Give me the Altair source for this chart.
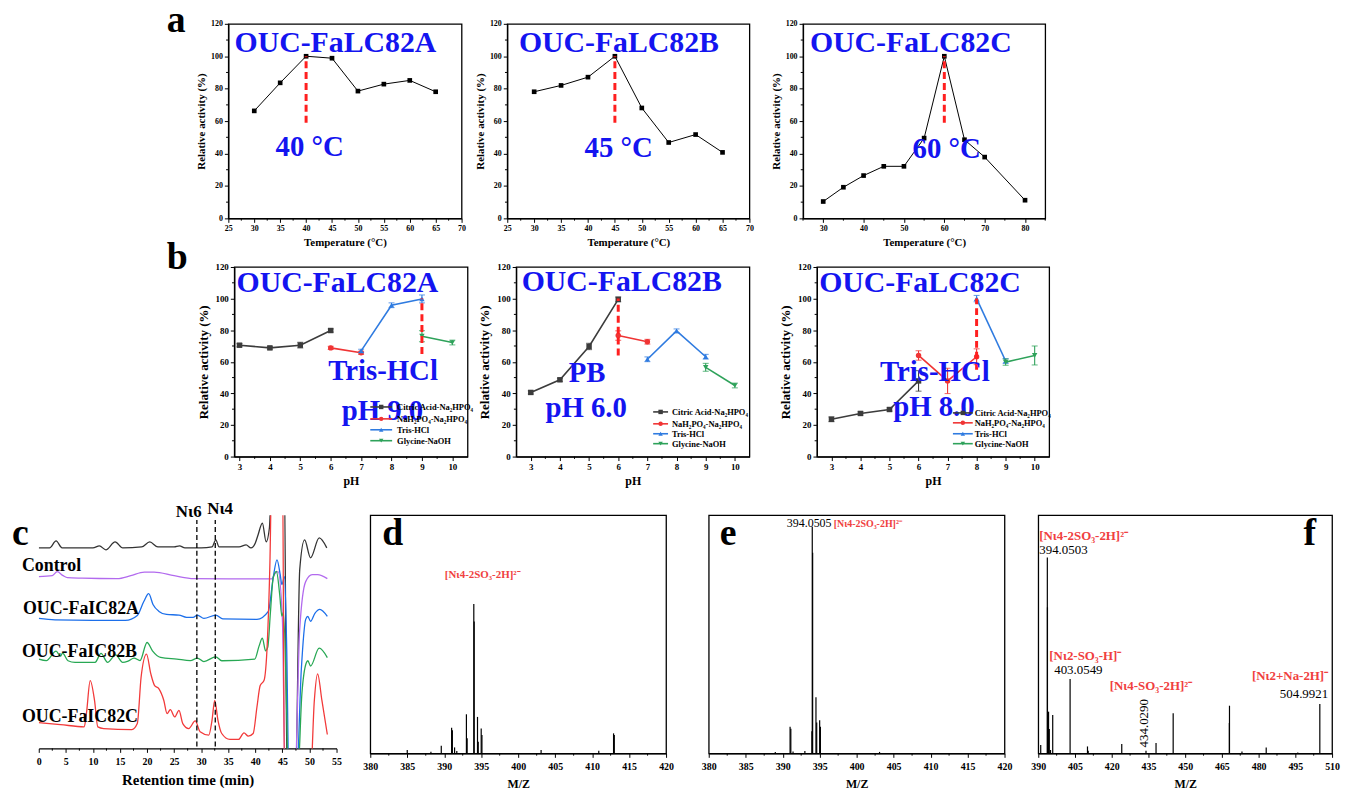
import altair as alt
import pandas as pd

FONT = "Liberation Serif"
BLUE = "#1414F0"
DASH_RED = "#FF1F1F"
LBL_RED = "#F04040"

# ---------------- (a) temperature profiles ----------------
TEMP_A = [30, 35, 40, 45, 50, 55, 60, 65]
ACT_A = [66.3, 83.6, 100.0, 98.8, 78.5, 82.8, 85.1, 78.1]
TEMP_B = [30, 35, 40, 45, 50, 55, 60, 65]
ACT_B = [78.1, 82.0, 87.1, 100.0, 68.1, 46.8, 51.7, 40.7]
TEMP_C = [30, 35, 40, 45, 50, 55, 60, 65, 70, 80]
ACT_C = [10.4, 19.2, 26.4, 32.1, 32.1, 49.5, 100.0, 48.5, 37.8, 11.2]

TEMP_TICKS_AB = [25, 30, 35, 40, 45, 50, 55, 60, 65, 70]
TEMP_MINOR_AB = [27.5, 32.5, 37.5, 42.5, 47.5, 52.5, 57.5, 62.5, 67.5]
TEMP_TICKS_C = [30, 40, 50, 60, 70, 80]
TEMP_MINOR_C = [25, 35, 45, 55, 65, 75, 85]
ACT_TICKS = [0, 20, 40, 60, 80, 100, 120]
ACT_MINOR = [10, 30, 50, 70, 90, 110]

# ---------------- (b) pH profiles ----------------
BUF_KEYS = ["citric", "phos", "tris", "gly"]
BUF_LABELS = ["Citric Acid-Na\u2082HPO\u2084", "NaH\u2082PO\u2084-Na\u2082HPO\u2084", "Tris-HCl", "Glycine-NaOH"]
BUF_COLORS = ["#3C3C3C", "#F03434", "#2F7BE0", "#2EA25A"]
BUF_SHAPES = ["square", "circle", "triangle-up", "triangle-down"]

PH_A = {
    "citric": ([3, 4, 5, 6], [70.5, 68.8, 70.5, 79.8], [1.0, 0.8, 1.8, 1.0]),
    "phos": ([6, 7], [68.8, 65.7], [1.0, 1.0]),
    "tris": ([7, 8, 9], [66.9, 95.8, 99.8], [1.0, 1.5, 2.5]),
    "gly": ([9, 10], [76.2, 72.2], [3.5, 1.5]),
}
PH_B = {
    "citric": ([3, 4, 5, 6], [40.6, 48.6, 69.7, 99.5], [1.0, 1.0, 2.0, 1.5]),
    "phos": ([6, 7], [76.6, 72.7], [3.0, 1.5]),
    "tris": ([7, 8, 9], [61.6, 79.6, 63.2], [1.5, 1.2, 1.5]),
    "gly": ([9, 10], [56.5, 45.0], [2.5, 1.5]),
}
PH_C = {
    "citric": ([3, 4, 5, 6], [23.6, 27.3, 29.8, 47.9], [1.5, 1.0, 1.0, 6.5]),
    "phos": ([6, 7, 8], [64.0, 47.9, 63.2], [3.0, 8.0, 5.0]),
    "tris": ([8, 9], [100.0, 60.5], [2.0, 1.5]),
    "gly": ([9, 10], [59.8, 64.0], [2.0, 6.0]),
}
PH_TICKS = [3, 4, 5, 6, 7, 8, 9, 10]
PH_MINOR = [3.5, 4.5, 5.5, 6.5, 7.5, 8.5, 9.5]

# ---------------- (c) chromatograms (signal, arbitrary units) ----------------
RT_BLACK = [0, 2, 3.2, 4.3, 8, 10, 11.2, 12.4, 14.1, 15.5, 19, 20.5, 22, 25, 26, 27, 30, 32, 32.7, 33.3,
            37, 38.3, 39.2, 40, 40.5, 41.3, 42, 42.6, 43.2, 45.3, 45.9, 47.4, 48.2, 49.1, 50.2, 51.8, 53.2]
SIG_BLACK = [202, 202, 209, 202, 202, 202, 204, 200, 208, 202, 203, 208, 203, 203, 204, 202, 202, 203, 210, 203,
             203, 205, 202, 207, 215, 227, 208, 222, 300, 300, -40, -40, 180, 210, 192, 212, 202]
RT_PURPLE = [0, 2.5, 3.4, 4.5, 5.3, 8, 14.5, 17, 19.5, 21.3, 25, 28.6, 35, 43.0, 43.6, 44.2, 45.0, 45.5,
             47.3, 48.2, 49.3, 50.5, 51.5, 53.3]
SIG_PURPLE = [173, 174, 178, 174, 172, 171.5, 171, 174, 177.5, 177.5, 174, 171, 170.7, 170.7, 176, 178, 130, -30,
              -30, 120, 168, 175, 175, 171]
RT_BLUE = [0, 3, 10, 16, 18.2, 19.4, 20.3, 21.1, 22.2, 23.6, 25.9, 27.3, 28.5, 29.3, 30.5, 32.7, 34, 40.3,
           42.4, 43.3, 44.0, 44.6, 44.9, 45.4, 45.8, 46.2, 47.6, 48.5, 49.3, 49.7, 50.2, 51.0, 51.9, 53.3]
SIG_BLUE = [131, 129.5, 129, 129, 134, 148, 156, 145, 138, 135, 134.3, 132, 132, 134.3, 131, 134.3, 130.5, 130,
            138, 172, 190, 175, 165, 173, 100, -30, -30, 80, 130, 133, 128, 136, 140, 133]
RT_GREEN = [0, 1.4, 3.2, 4.0, 4.4, 5.4, 6.7, 10.4, 11.5, 12.7, 14.2, 15.5, 16.5, 17.6, 18.7, 20.0, 21.0, 22.5,
            25.5, 28.0, 29.3, 30.5, 32.7, 33.8, 39.9, 40.7, 41.3, 41.9, 42.3, 42.8, 43.3, 43.9, 44.5, 44.9,
            45.2, 45.7, 46.1, 47.8, 48.6, 49.4, 49.7, 50.2, 51.8, 53.3]
SIG_GREEN = [90, 88.5, 98, 93, 96, 88.3, 86.7, 86.7, 95.7, 86.7, 94.3, 86.7, 88, 91, 88.5, 106.7, 98.3, 91.7,
             90, 88.5, 91, 87.5, 92.3, 88.3, 90, 103.3, 111, 98.3, 102, 138, 171.7, 178.3, 155, 133.3,
             137, 60, -30, -30, 55, 86, 88.3, 83, 101, 91.5]
RT_RED = [0, 4, 8.4, 8.8, 9.5, 10.3, 10.9, 12, 17.2, 18.2, 18.9, 19.9, 20.7, 21.4, 22.2, 23.1, 23.7, 24.3,
          25.1, 25.9, 26.6, 27.7, 28.9, 29.8, 31.4, 32.0, 32.5, 33.1, 33.8, 35.3, 36.9, 37.9, 38.7, 39.6,
          40.3, 40.9, 41.6, 42.2, 42.7, 43.1, 45.0, 45.4, 50.1, 50.9, 51.5, 52.3, 53.3]
SIG_RED = [26, 24, 21.7, 35, 68.3, 48.3, 21.7, 20, 19, 25, 71.7, 95, 75, 63.3, 60, 48.3, 35, 39,
           31.7, 38.3, 25, 20, 27.7, 16.7, 13.3, 28.3, 48.3, 28.3, 15, 9, 9, 15.7, 12.3, 15,
           41.7, 63.3, 68.3, 105, 188, 300, 300, -40, -40, 48.3, 75, 48.3, 14]
RT_MARKERS = [29.2, 32.6]
RT_MARKER_NAMES = ["N\u03b96", "N\u03b94"]
RT_TICKS = [0, 5, 10, 15, 20, 25, 30, 35, 40, 45, 50, 55]
RT_MINOR = [2.5, 7.5, 12.5, 17.5, 22.5, 27.5, 32.5, 37.5, 42.5, 47.5, 52.5]

# ---------------- (d)(e)(f) mass spectra (relative intensity, %) ----------------
MZ_D = [385.0, 388.2, 389.6, 391.0, 391.1, 391.4, 391.7, 393.0, 393.1, 394.0, 394.05, 394.5, 394.6, 395.0,
        395.1, 403.1, 410.9, 412.9, 413.0]
INT_D = [1.4, 0.7, 3.2, 10.7, 9.7, 2.5, 1.0, 16.4, 6.3, 62.7, 55.3, 15.3, 4.9, 10.4, 7.7, 1.4, 1.1, 8.4, 7.7]
MZ_E = [389.0, 391.0, 391.1, 391.4, 393.0, 393.95, 394.0, 394.05, 394.5, 394.6, 395.0, 395.1, 403.1]
INT_E = [0.6, 11.2, 10.3, 0.8, 1.0, 9.3, 95.1, 84.2, 23.6, 13.0, 13.9, 11.2, 0.6]
MZ_F = [391.0, 393.7, 393.75, 394.2, 394.5, 395.0, 395.9, 403.0, 410.1, 410.4, 424.1, 434.0, 438.1, 445.1,
        468.05, 468.1, 473.2, 483.1, 496.0, 505.0]
INT_F = [3.5, 82.2, 61.3, 17.5, 10.2, 1.4, 16.1, 31.2, 2.9, 1.1, 3.9, 1.1, 4.3, 16.8,
         12.7, 20.0, 0.8, 2.5, 0.4, 20.7]
MZ_TICKS_DE = [380, 385, 390, 395, 400, 405, 410, 415, 420]
MZ_MINOR_DE = [382.5, 387.5, 392.5, 397.5, 402.5, 407.5, 412.5, 417.5]
MZ_TICKS_F = [390, 405, 420, 435, 450, 465, 480, 495, 510]
MZ_MINOR_F = [397.5, 412.5, 427.5, 442.5, 457.5, 472.5, 487.5, 502.5]

ION_1 = "[N\u03b94-2SO\u2083-2H]\u00b2\u207b"
ION_2 = "[N\u03b92-SO\u2083-H]\u207b"
ION_3 = "[N\u03b94-SO\u2083-2H]\u00b2\u207b"
ION_4 = "[N\u03b92+Na-2H]\u207b"

ONE = pd.DataFrame({"k": [0]})
FRAME = alt.ViewBackground(stroke="black", strokeWidth=1.3)
MINOR_LEN = 2.3


def major_axis(major, title, label_size, title_size, title_pad, label_pad=2):
    return alt.Axis(
        values=major, tickCount=100, format="d", tickSize=4,
        title=title, labelFont=FONT, labelFontSize=label_size, labelFontWeight="bold",
        labelColor="black", titleFont=FONT, titleFontSize=title_size, titleFontWeight="bold",
        titleColor="black", titlePadding=title_pad, domainColor="black", domainWidth=1.2,
        tickColor="black", tickWidth=1, grid=False, labelOverlap=False, labelFlush=False,
        labelPadding=label_pad,
    )


def minor_x(vals, height):
    return alt.Chart(pd.DataFrame({"mx": vals})).mark_rule(color="black", strokeWidth=1).encode(
        x=alt.X("mx:Q"), y=alt.value(height), y2=alt.value(height + MINOR_LEN))


def minor_y(vals):
    return alt.Chart(pd.DataFrame({"my": vals})).mark_rule(color="black", strokeWidth=1).encode(
        y=alt.Y("my:Q"), x=alt.value(0), x2=alt.value(-MINOR_LEN))


def txt(x, y, s, size, color="black", weight="bold", align="center", baseline="alphabetic",
        angle=None, pixel=False):
    mk = dict(font=FONT, fontSize=size, fontWeight=weight, color=color, align=align, baseline=baseline)
    if angle is not None:
        mk["angle"] = angle
    if pixel:
        enc = dict(x=alt.value(x), y=alt.value(y))
    else:
        enc = dict(x=alt.datum(x), y=alt.datum(y))
    return alt.Chart(ONE).mark_text(**mk).encode(text=alt.value(s), **enc)


def spacer(w, h):
    return alt.Chart(ONE).mark_point(opacity=0).encode(
        x=alt.X("k:Q", axis=None), y=alt.Y("k:Q", axis=None)
    ).properties(width=w, height=h)


def temp_panel(temps, acts, width, xdom, xmaj, xmin, peak, name, name_x, lbl_x, lbl_y, letter=None):
    H = 196
    df = pd.DataFrame({"t": temps, "a": acts})
    X = alt.X("t:Q", scale=alt.Scale(domain=xdom, nice=False, zero=False),
              axis=major_axis(xmaj, "Temperature (\u00b0C)", 8, 11, 4))
    Y = alt.Y("a:Q", scale=alt.Scale(domain=[0, 120], nice=False),
              axis=major_axis(ACT_TICKS, "Relative activity (%)", 8, 11, 4))
    base = alt.Chart(df).encode(x=X, y=Y)
    line = base.mark_line(color="black", strokeWidth=1)
    pts = base.mark_point(shape="square", filled=True, color="black", size=22, opacity=1)
    dash = alt.Chart(pd.DataFrame({"t": [peak], "lo": [59], "hi": [100]})).mark_rule(
        color=DASH_RED, strokeWidth=3, strokeDash=[7, 4]).encode(x="t:Q", y="lo:Q", y2="hi:Q")
    layers = [line, minor_x(xmin, H), minor_y(ACT_MINOR), pts, dash,
              txt(name_x, 102.9, name, 30, BLUE),
              txt(lbl_x, lbl_y, f"{peak} \u00b0C", 29, BLUE)]
    if letter:
        layers.append(txt(-62, 8, letter, 38, pixel=True, align="left"))
    return alt.layer(*layers).properties(width=width, height=H, view=FRAME)


def ph_panel(series, width, xdom, peak, dash_lo, texts, legend, letter=None):
    H = 191
    X = alt.X("p:Q", scale=alt.Scale(domain=xdom, nice=False, zero=False),
              axis=major_axis(PH_TICKS, "pH", 9, 12, 4))
    Y = alt.Y("a:Q", scale=alt.Scale(domain=[0, 120], nice=False),
              axis=major_axis(ACT_TICKS, "Relative activity (%)", 9, 13, 5))
    layers = [minor_x(PH_MINOR, H), minor_y(ACT_MINOR)]
    for key, color, shape in zip(BUF_KEYS, BUF_COLORS, BUF_SHAPES):
        ph, act, err = series[key]
        df = pd.DataFrame({"p": ph, "a": act,
                           "lo": [a - e for a, e in zip(act, err)],
                           "hi": [a + e for a, e in zip(act, err)]})
        base = alt.Chart(df).encode(x=X, y=Y)
        layers.append(base.mark_line(color=color, strokeWidth=1.6))
        layers.append(alt.Chart(df).mark_rule(color=color, strokeWidth=1.1).encode(x=X, y="lo:Q", y2="hi:Q"))
        layers.append(alt.Chart(df).mark_tick(color=color, thickness=1.1, size=6, orient="horizontal")
                      .encode(x=X, y="lo:Q"))
        layers.append(alt.Chart(df).mark_tick(color=color, thickness=1.1, size=6, orient="horizontal")
                      .encode(x=X, y="hi:Q"))
        layers.append(base.mark_point(shape=shape, filled=True, color=color, size=30, opacity=1))
    layers.append(alt.Chart(pd.DataFrame({"p": [peak], "lo": [dash_lo], "hi": [100]})).mark_rule(
        color=DASH_RED, strokeWidth=3, strokeDash=[7, 4]).encode(x="p:Q", y="lo:Q", y2="hi:Q"))
    for (tx, ty, s, size) in texts:
        layers.append(txt(tx, ty, s, size, BLUE))
    lx0, lx1, tx, ys = legend
    for lab, color, shape, ly in zip(BUF_LABELS, BUF_COLORS, BUF_SHAPES, ys):
        layers.append(alt.Chart(ONE).mark_rule(color=color, strokeWidth=1.6).encode(
            x=alt.value(lx0), x2=alt.value(lx1), y=alt.value(ly)))
        layers.append(alt.Chart(ONE).mark_point(shape=shape, filled=True, color=color, size=20, opacity=1)
                      .encode(x=alt.value((lx0 + lx1) / 2), y=alt.value(ly)))
        layers.append(txt(tx, ly, lab, 8.5, align="left", baseline="middle", pixel=True))
    if letter:
        layers.append(txt(-68, 2, letter, 38, pixel=True, align="left"))
    return alt.layer(*layers).properties(width=width, height=H, view=FRAME)


def chrom_panel():
    H = 235
    X = alt.X("t:Q", scale=alt.Scale(domain=[0, 55], nice=False, zero=False),
              axis=major_axis(RT_TICKS, "Retention time (min)", 10, 15, 6, label_pad=4))
    Y = alt.Y("s:Q", scale=alt.Scale(domain=[0, 235], nice=False), axis=None)
    traces = [(RT_BLACK, SIG_BLACK, "#333333"), (RT_PURPLE, SIG_PURPLE, "#B26AEE"),
              (RT_BLUE, SIG_BLUE, "#1C6FEA"), (RT_GREEN, SIG_GREEN, "#28A854"),
              (RT_RED, SIG_RED, "#F23A3A")]
    layers = [minor_x(RT_MINOR, H)]
    for t, s, c in traces:
        df = pd.DataFrame({"t": t, "s": s})
        layers.append(alt.Chart(df).mark_line(color=c, strokeWidth=1.3, clip=True, interpolate="monotone")
                      .encode(x=X, y=Y))
    layers.append(alt.Chart(pd.DataFrame({"t": RT_MARKERS, "lo": [2, 2], "hi": [230, 230]})).mark_rule(
        color="black", strokeWidth=1.3, strokeDash=[5, 3]).encode(x="t:Q", y="lo:Q", y2="hi:Q"))
    layers.append(txt(27.7, 233, RT_MARKER_NAMES[0], 17))
    layers.append(txt(33.5, 236, RT_MARKER_NAMES[1], 17))
    layers.append(txt(-17, 56, "Control", 18, align="left", pixel=True))
    layers.append(txt(-16, 100, "OUC-FaIC82A", 18, align="left", pixel=True))
    layers.append(txt(-17, 143, "OUC-FaIC82B", 18, align="left", pixel=True))
    layers.append(txt(-17, 208, "OUC-FaIC82C", 18, align="left", pixel=True))
    layers.append(txt(-27, 30, "c", 38, align="left", pixel=True))
    return alt.layer(*layers).properties(width=300, height=H)


def ms_panel(mz, inten, width, xdom, maj, mnr, texts, letter, letter_x, letter_align):
    H = 240
    df = pd.DataFrame({"m": mz, "i": inten})
    X = alt.X("m:Q", scale=alt.Scale(domain=xdom, nice=False, zero=False),
              axis=major_axis(maj, "M/Z", 10, 12, 7, label_pad=4))
    Y = alt.Y("i:Q", scale=alt.Scale(domain=[0, 100], nice=False), axis=None)
    layers = [minor_x(mnr, H),
              alt.Chart(df).mark_rule(color="black", strokeWidth=1.2).encode(x=X, y=Y, y2=alt.datum(0))]
    for t in texts:
        layers.append(t)
    layers.append(txt(letter_x, 30, letter, 38, align=letter_align, pixel=True))
    return alt.layer(*layers).properties(width=width, height=H, view=FRAME)


# ---- row a
a1 = temp_panel(TEMP_A, ACT_A, 235, [25, 70], TEMP_TICKS_AB, TEMP_MINOR_AB, 40, "OUC-FaLC82A", 45.65, 40.7, 38.6, "a")
a2 = temp_panel(TEMP_B, ACT_B, 244, [25, 70], TEMP_TICKS_AB, TEMP_MINOR_AB, 45, "OUC-FaLC82B", 45.75, 45.7, 38.0)
a3 = temp_panel(TEMP_C, ACT_C, 244, [25, 85], TEMP_TICKS_C, TEMP_MINOR_C, 60, "OUC-FaLC82C", 51.7, 60.6, 37.4)

# ---- row b
b1 = ph_panel(PH_A, 235, [2.83, 10.5], 9, 65,
              [(6.22, 104.0, "OUC-FaLC82A", 30), (7.72, 48.6, "Tris-HCl", 29), (7.7, 23.4, "pH 9.0", 29)],
              (137, 159, 164, [141, 153, 164, 175]), "b")
b2 = ph_panel(PH_B, 235, [2.5, 10.5], 6, 64,
              [(6.12, 104.9, "OUC-FaLC82B", 30), (4.93, 47.1, "PB", 29), (4.9, 25.1, "pH 6.0", 29)],
              (138, 153, 157, [146, 158, 168, 178]))
b3 = ph_panel(PH_C, 234, [2.5, 10.5], 8, 55,
              [(6.05, 104.3, "OUC-FaLC82C", 30), (6.56, 47.7, "Tris-HCl", 29), (6.53, 25.7, "pH 8.0", 29)],
              (137, 157, 159, [147, 157, 168, 178]))

# ---- row c
c = chrom_panel()
d = ms_panel(MZ_D, INT_D, 298, [380, 420], MZ_TICKS_DE, MZ_MINOR_DE,
             [txt(395.2, 73.8, ION_1, 11, LBL_RED)], "d", 12, "left")
e = ms_panel(MZ_E, INT_E, 298, [380, 420], MZ_TICKS_DE, MZ_MINOR_DE,
             [txt(396.6, 95, "394.0505", 12, weight="normal", align="right"),
              txt(396.9, 95, ION_1, 10, LBL_RED, align="left")], "e", 11, "left")
f = ms_panel(MZ_F, INT_F, 296, [390, 510], MZ_TICKS_F, MZ_MINOR_F,
             [txt(390.4, 89.6, ION_1, 13, LBL_RED, align="left"),
              txt(390.4, 83.6, "394.0503", 13, weight="normal", align="left"),
              txt(394.5, 39.2, ION_2, 13, LBL_RED, align="left"),
              txt(396.5, 33.3, "403.0549", 13, weight="normal", align="left"),
              txt(419.2, 26.4, ION_3, 13, LBL_RED, align="left"),
              txt(433.4, 2.5, "434.0290", 13, weight="normal", align="left", baseline="middle", angle=270),
              txt(508.4, 30.8, ION_4, 13, LBL_RED, align="right"),
              txt(508.4, 23.2, "504.9921", 13, weight="normal", align="right")],
             "f", 280, "right")

row_a = alt.hconcat(spacer(191, 196), a1, spacer(46, 196), a2, spacer(54, 196), a3,
                    spacing=0, bounds="flush")
row_b = alt.hconcat(spacer(197, 191), b1, spacer(49, 191), b2, spacer(68, 191), b3,
                    spacing=0, bounds="flush")
row_c = alt.hconcat(c, spacer(34, 240), d, spacer(43, 240), e, spacer(34, 240), f,
                    spacing=0, bounds="flush")

# nested rows have no height of their own under a flush layout, so the spacers set row offsets
chart = alt.vconcat(row_a, spacer(1, 245), row_b, spacer(1, 250), row_c,
                    spacing=0, bounds="flush").properties(
    padding={"left": 4, "top": -10, "right": 0, "bottom": 0}
).configure_view(stroke=None)

chart.save("out.html", embed_options={"renderer": "svg", "actions": False})
